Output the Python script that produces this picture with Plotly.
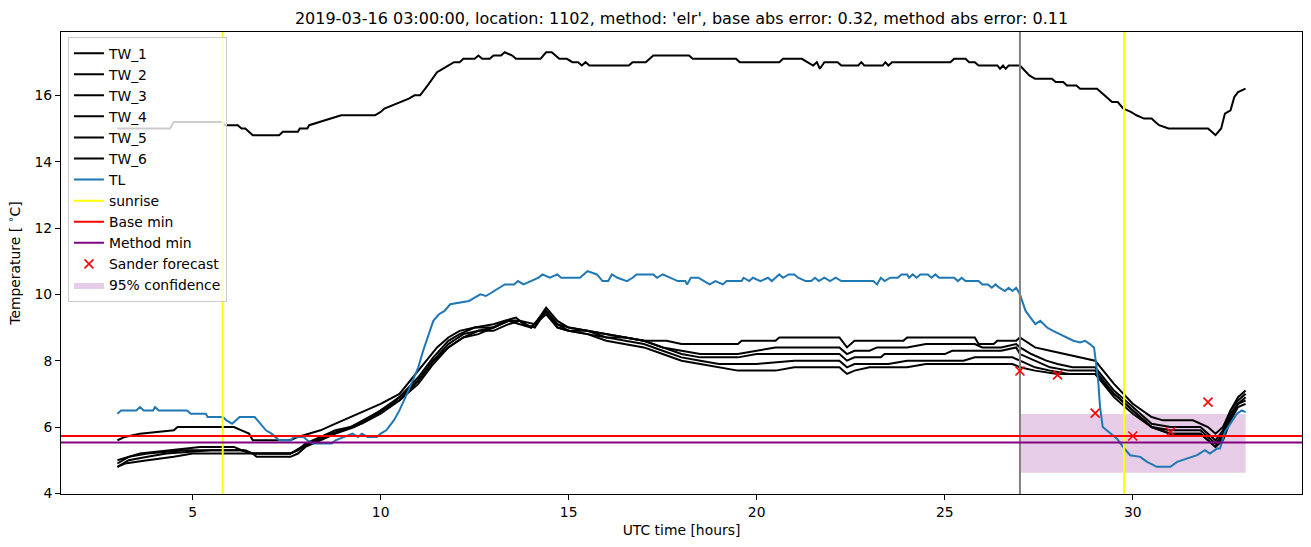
import plotly.graph_objects as go

TITLE = "2019-03-16 03:00:00, location: 1102, method: 'elr', base abs error: 0.32, method abs error: 0.11"

TW_1 = [(3.0,15.0),(4.4,15.0),(4.5,15.2),(5.8,15.2),(5.85,15.1),(6.2,15.1),(6.3,15.0),(6.4,15.0),(6.6,14.8),(7.3,14.8),(7.4,14.9),(7.8,14.9),(7.85,15.0),(8.05,15.0),(8.1,15.1),(8.4,15.2),(8.7,15.3),(8.95,15.4),(9.85,15.4),(10.0,15.5),(10.1,15.6),(10.3,15.7),(10.55,15.8),(10.75,15.9),(10.9,16.0),(11.05,16.0),(11.25,16.3),(11.5,16.7),(11.65,16.8),(11.8,16.9),(11.95,17.0),(12.1,17.0),(12.2,17.1),(12.5,17.1),(12.6,17.2),(12.7,17.1),(12.9,17.1),(13.0,17.2),(13.2,17.2),(13.3,17.3),(13.5,17.2),(13.6,17.1),(14.25,17.1),(14.4,17.3),(14.55,17.3),(14.65,17.2),(14.75,17.1),(14.95,17.1),(15.1,17.0),(15.25,17.0),(15.35,16.9),(15.45,17.0),(15.55,16.9),(16.6,16.9),(16.7,17.0),(17.05,17.0),(17.25,17.2),(18.2,17.2),(18.3,17.1),(19.45,17.1),(19.55,17.0),(20.6,17.0),(20.7,17.1),(21.2,17.1),(21.35,17.0),(21.5,16.9),(21.6,17.0),(21.68,16.8),(21.8,17.0),(22.15,17.0),(22.25,16.9),(22.7,16.9),(22.78,17.0),(22.86,16.9),(23.35,16.9),(23.42,17.0),(23.5,16.9),(23.6,17.0),(25.15,17.0),(25.25,17.1),(25.55,17.1),(25.65,17.0),(25.8,17.0),(25.9,16.9),(26.4,16.9),(26.47,16.8),(26.55,16.9),(26.62,16.8),(26.7,16.9),(27.0,16.9),(27.25,16.6),(27.4,16.5),(27.85,16.5),(27.95,16.4),(28.15,16.4),(28.25,16.3),(28.5,16.3),(28.6,16.2),(29.05,16.2),(29.45,15.8),(29.6,15.8),(29.75,15.6),(29.95,15.5),(30.1,15.4),(30.3,15.3),(30.5,15.3),(30.6,15.2),(30.7,15.1),(30.95,15.0),(32.0,15.0),(32.1,14.9),(32.2,14.8),(32.35,15.0),(32.45,15.45),(32.6,15.55),(32.7,15.95),(32.8,16.1),(32.9,16.15),(33.0,16.2)]

TW_2 = [(3.0,5.6),(3.2,5.7),(3.6,5.8),(4.5,5.9),(4.6,6.0),(6.1,6.0),(6.3,5.9),(6.5,5.8),(6.6,5.6),(7.6,5.6),(7.8,5.7),(8.1,5.8),(8.4,5.9),(8.8,6.1),(9.2,6.3),(9.6,6.5),(10.0,6.7),(10.5,7.0),(11.0,7.7),(11.5,8.4),(11.8,8.7),(12.1,8.9),(12.5,9.0),(13.0,9.1),(13.3,9.2),(13.7,9.2),(14.1,9.1),(14.4,9.6),(14.7,9.2),(15.0,9.0),(15.5,8.9),(16.0,8.8),(16.5,8.7),(17.0,8.6),(17.6,8.6),(18.0,8.5),(19.5,8.5),(19.6,8.6),(20.5,8.6),(20.6,8.7),(22.2,8.7),(22.4,8.4),(22.6,8.6),(23.9,8.6),(24.0,8.7),(25.8,8.7),(25.9,8.5),(26.3,8.5),(26.4,8.6),(26.9,8.6),(27.0,8.7),(27.4,8.4),(27.8,8.3),(28.2,8.2),(28.6,8.1),(29.0,8.0),(29.5,7.3),(30.0,6.7),(30.5,6.3),(30.8,6.2),(31.6,6.2),(31.8,6.1),(32.0,6.0),(32.2,5.8),(32.4,6.0),(32.6,6.5),(32.8,6.9),(33.0,7.1)]

TW_3 = [(3.0,5.0),(3.3,5.1),(3.6,5.2),(4.4,5.3),(5.2,5.4),(6.1,5.4),(6.3,5.3),(6.6,5.2),(7.6,5.2),(7.8,5.3),(8.0,5.5),(8.4,5.7),(8.8,5.9),(9.2,6.0),(9.6,6.2),(10.0,6.5),(10.5,6.9),(11.0,7.5),(11.4,8.1),(11.8,8.6),(12.1,8.8),(12.5,9.0),(13.0,9.0),(13.3,9.2),(13.6,9.3),(13.8,9.1),(14.1,9.0),(14.4,9.5),(14.7,9.1),(15.0,9.0),(15.5,8.9),(16.0,8.8),(16.5,8.7),(17.0,8.6),(17.5,8.4),(18.0,8.3),(18.5,8.2),(19.5,8.2),(20.0,8.3),(20.5,8.4),(22.2,8.4),(22.4,8.2),(22.6,8.3),(23.0,8.3),(23.2,8.4),(24.0,8.4),(24.5,8.5),(25.8,8.5),(26.0,8.4),(26.5,8.4),(26.9,8.5),(27.0,8.4),(27.3,8.2),(27.7,8.0),(28.0,7.9),(28.4,7.8),(29.0,7.8),(29.5,7.1),(30.0,6.6),(30.5,6.1),(31.0,6.0),(31.8,6.0),(32.0,5.8),(32.2,5.6),(32.4,5.9),(32.6,6.5),(32.8,6.8),(33.0,7.0)]

TW_4 = [(3.0,4.9),(3.3,5.1),(3.8,5.2),(4.8,5.3),(6.3,5.3),(6.6,5.2),(7.6,5.2),(7.9,5.4),(8.3,5.6),(8.7,5.8),(9.2,6.0),(9.7,6.3),(10.0,6.5),(10.5,6.8),(11.0,7.4),(11.4,8.0),(11.8,8.5),(12.2,8.8),(12.6,8.9),(13.0,9.0),(13.4,9.2),(13.7,9.2),(14.0,9.0),(14.4,9.5),(14.7,9.1),(15.0,8.9),(15.5,8.9),(16.0,8.7),(16.5,8.7),(17.0,8.6),(17.5,8.4),(18.0,8.2),(18.5,8.1),(19.5,8.1),(20.0,8.2),(22.2,8.2),(22.4,8.0),(22.6,8.1),(23.3,8.1),(23.4,8.2),(25.0,8.2),(25.2,8.3),(26.5,8.3),(26.9,8.4),(27.0,8.2),(27.4,8.0),(27.8,7.8),(28.3,7.7),(29.0,7.7),(29.5,7.0),(30.0,6.5),(30.5,6.0),(31.0,5.9),(31.8,5.9),(32.0,5.7),(32.2,5.5),(32.4,5.8),(32.6,6.4),(32.8,6.7),(33.0,6.9)]

TW_5 = [(3.0,4.8),(3.3,5.0),(3.8,5.1),(4.3,5.2),(5.5,5.3),(6.4,5.3),(6.6,5.2),(7.6,5.2),(7.8,5.3),(8.1,5.5),(8.5,5.7),(9.0,5.9),(9.5,6.1),(10.0,6.4),(10.5,6.8),(11.0,7.3),(11.4,7.9),(11.8,8.4),(12.2,8.7),(12.6,8.9),(13.0,8.9),(13.4,9.1),(13.7,9.2),(14.0,9.0),(14.4,9.4),(14.7,9.0),(15.0,8.9),(15.5,8.8),(16.0,8.7),(16.5,8.6),(17.0,8.5),(17.5,8.3),(18.0,8.1),(18.5,8.0),(19.0,7.9),(20.0,7.9),(21.0,8.0),(22.2,8.0),(22.4,7.8),(22.6,7.9),(23.5,7.9),(24.0,8.0),(25.5,8.0),(25.8,8.1),(26.8,8.1),(27.0,8.0),(27.4,7.8),(27.8,7.7),(28.3,7.6),(29.0,7.6),(29.5,7.0),(30.0,6.5),(30.5,6.0),(31.0,5.8),(31.8,5.8),(32.0,5.6),(32.2,5.4),(32.4,5.7),(32.6,6.3),(32.8,6.7),(33.0,6.8)]

TW_6 = [(3.0,4.8),(3.2,4.9),(3.8,5.0),(4.5,5.1),(5.0,5.2),(6.6,5.2),(6.7,5.1),(7.6,5.1),(7.8,5.2),(8.0,5.4),(8.4,5.6),(8.8,5.8),(9.3,6.0),(9.8,6.3),(10.2,6.6),(10.6,7.0),(11.0,7.4),(11.4,8.0),(11.8,8.4),(12.2,8.7),(12.6,8.8),(13.0,9.0),(13.4,9.2),(13.7,9.1),(14.0,9.0),(14.4,9.5),(14.7,9.0),(15.0,8.9),(15.5,8.8),(16.0,8.6),(16.5,8.5),(17.0,8.4),(17.5,8.2),(18.0,8.0),(18.5,7.9),(19.0,7.8),(19.5,7.7),(20.5,7.7),(21.0,7.8),(22.2,7.8),(22.4,7.6),(22.6,7.7),(23.0,7.8),(24.0,7.8),(24.5,7.9),(26.8,7.9),(27.0,7.8),(27.4,7.7),(28.0,7.6),(29.0,7.6),(29.5,6.9),(30.0,6.4),(30.5,6.0),(31.0,5.8),(31.8,5.8),(32.0,5.6),(32.2,5.4),(32.4,5.6),(32.6,6.2),(32.8,6.6),(33.0,6.7)]

TL = [(3.0,6.4),(3.1,6.5),(3.5,6.5),(3.6,6.6),(3.7,6.5),(3.95,6.5),(4.0,6.6),(4.1,6.5),(4.85,6.5),(4.95,6.4),(5.35,6.4),(5.4,6.3),(5.8,6.3),(5.9,6.2),(6.05,6.1),(6.15,6.2),(6.25,6.3),(6.65,6.3),(6.8,6.1),(6.95,5.9),(7.1,5.8),(7.2,5.7),(7.3,5.6),(7.6,5.6),(7.7,5.7),(7.95,5.7),(8.05,5.6),(8.2,5.5),(8.7,5.5),(8.8,5.6),(9.25,5.8),(9.4,5.7),(9.5,5.8),(9.65,5.7),(9.9,5.7),(10.0,5.8),(10.15,5.9),(10.35,6.2),(10.5,6.5),(10.7,7.0),(10.86,7.4),(11.0,7.8),(11.13,8.3),(11.27,8.8),(11.4,9.2),(11.55,9.4),(11.7,9.5),(11.85,9.7),(12.15,9.75),(12.35,9.8),(12.5,9.9),(12.65,10.0),(12.8,9.95),(13.0,10.1),(13.3,10.3),(13.55,10.3),(13.65,10.4),(13.8,10.3),(14.0,10.4),(14.2,10.5),(14.3,10.6),(14.5,10.5),(14.7,10.6),(14.8,10.5),(15.3,10.5),(15.5,10.7),(15.75,10.6),(15.9,10.4),(16.05,10.4),(16.15,10.6),(16.3,10.5),(16.55,10.4),(16.7,10.5),(16.8,10.6),(17.25,10.6),(17.35,10.5),(17.5,10.6),(17.7,10.5),(17.9,10.4),(18.1,10.4),(18.15,10.3),(18.25,10.5),(18.45,10.5),(18.6,10.4),(18.75,10.3),(18.9,10.4),(19.1,10.3),(19.2,10.4),(19.6,10.4),(19.65,10.5),(19.8,10.4),(19.9,10.5),(20.1,10.4),(20.3,10.5),(20.4,10.4),(20.5,10.5),(20.6,10.6),(20.7,10.5),(20.85,10.6),(21.0,10.6),(21.1,10.5),(21.3,10.4),(21.45,10.4),(21.55,10.5),(21.65,10.4),(21.8,10.5),(21.95,10.4),(22.1,10.5),(22.25,10.4),(23.1,10.4),(23.2,10.3),(23.3,10.5),(23.4,10.4),(23.55,10.5),(23.75,10.5),(23.85,10.6),(24.0,10.6),(24.05,10.5),(24.15,10.6),(24.25,10.5),(24.35,10.6),(24.55,10.6),(24.65,10.5),(24.75,10.6),(24.85,10.5),(25.25,10.5),(25.35,10.4),(25.45,10.5),(25.55,10.4),(25.9,10.4),(26.0,10.3),(26.15,10.3),(26.25,10.2),(26.35,10.3),(26.45,10.2),(26.6,10.1),(26.7,10.2),(26.8,10.1),(26.9,10.2),(27.0,10.0),(27.15,9.5),(27.28,9.3),(27.41,9.1),(27.54,9.2),(27.72,9.0),(27.88,8.9),(28.07,8.8),(28.25,8.7),(28.42,8.6),(28.6,8.55),(28.73,8.6),(28.86,8.5),(28.97,8.4),(29.08,7.4),(29.13,6.6),(29.2,6.0),(29.4,5.8),(29.58,5.65),(29.74,5.4),(29.93,5.15),(30.2,5.1),(30.38,4.95),(30.64,4.8),(31.0,4.8),(31.18,4.95),(31.45,5.05),(31.71,5.15),(31.92,5.3),(32.05,5.2),(32.24,5.35),(32.32,5.35),(32.45,5.85),(32.59,6.1),(32.77,6.4),(32.9,6.5),(33.0,6.45)]

SUNRISE_HOURS = [5.8, 29.77]
NOW_HOUR = 27.0
BASE_MIN = 5.73
METHOD_MIN = 5.53
FORECAST_HOURS = [27, 28, 29, 30, 31, 32]
FORECAST_VALUES = [7.69, 7.57, 6.42, 5.73, 5.85, 6.75]
CONF_HOURS = [27.0, 33.0]
CONF_LOW = 4.62
CONF_HIGH = 6.39

X_RANGE = [1.5, 34.5]
Y_RANGE = [3.98, 17.91]
X_TICKS = [5, 10, 15, 20, 25, 30]
Y_TICKS = [4, 6, 8, 10, 12, 14, 16]

FONT = "DejaVu Sans"
FS = 13.9
fig = go.Figure()

fig.add_trace(go.Scatter(
    x=[CONF_HOURS[0], CONF_HOURS[1], CONF_HOURS[1], CONF_HOURS[0], CONF_HOURS[0]],
    y=[CONF_LOW, CONF_LOW, CONF_HIGH, CONF_HIGH, CONF_LOW],
    fill="toself", fillcolor="rgba(128,0,128,0.2)", line=dict(width=0),
    mode="lines", name="95% confidence", legendrank=12, hoverinfo="skip"))

for i, series in enumerate([TW_1, TW_2, TW_3, TW_4, TW_5, TW_6]):
    xs = [p[0] for p in series]
    ys = [p[1] for p in series]
    fig.add_trace(go.Scatter(x=xs, y=ys, mode="lines", name=f"TW_{i+1}",
                             line=dict(color="black", width=2), legendrank=i + 1))

fig.add_trace(go.Scatter(x=[p[0] for p in TL], y=[p[1] for p in TL], mode="lines",
                         name="TL", line=dict(color="#1f77b4", width=2), legendrank=7))

fig.add_trace(go.Scatter(x=[NOW_HOUR, NOW_HOUR], y=Y_RANGE, mode="lines",
                         line=dict(color="gray", width=2), showlegend=False))

sx, sy = [], []
for h in SUNRISE_HOURS:
    sx += [h, h, None]
    sy += [Y_RANGE[0], Y_RANGE[1], None]
fig.add_trace(go.Scatter(x=sx, y=sy, mode="lines", name="sunrise",
                         line=dict(color="yellow", width=2), legendrank=8))

fig.add_trace(go.Scatter(x=X_RANGE, y=[BASE_MIN, BASE_MIN], mode="lines", name="Base min",
                         line=dict(color="red", width=2), legendrank=9))
fig.add_trace(go.Scatter(x=X_RANGE, y=[METHOD_MIN, METHOD_MIN], mode="lines", name="Method min",
                         line=dict(color="purple", width=2), legendrank=10))

fig.add_trace(go.Scatter(x=FORECAST_HOURS, y=FORECAST_VALUES, mode="markers", name="Sander forecast",
                         marker=dict(symbol="x-thin", size=9, color="red",
                                     line=dict(color="red", width=1.6)), legendrank=11))

axis_common = dict(showline=True, linecolor="black", linewidth=1, mirror=True,
                   ticks="outside", ticklen=5, tickwidth=1, tickcolor="black",
                   showgrid=False, zeroline=False,
                   tickfont=dict(family=FONT, size=FS, color="black"))

fig.update_layout(
    width=1311, height=547,
    margin=dict(l=61, r=9, t=32, b=53),
    paper_bgcolor="white", plot_bgcolor="white",
    font=dict(family=FONT, size=FS, color="black"),
    title=dict(text=TITLE, x=0.5, xref="paper", xanchor="center",
               y=1 - 18 / 547, yref="container", yanchor="middle",
               font=dict(family=FONT, size=16, color="black")),
    xaxis=dict(range=X_RANGE, tickvals=X_TICKS,
               title=dict(text="UTC time [hours]", standoff=6,
                          font=dict(family=FONT, size=FS)), **axis_common),
    yaxis=dict(range=Y_RANGE, tickvals=Y_TICKS,
               title=dict(text="Temperature [ <sup>∘</sup>C]", standoff=10,
                          font=dict(family=FONT, size=FS)), **axis_common),
    legend=dict(x=0.0056, y=0.99, xanchor="left", yanchor="top",
                bgcolor="rgba(255,255,255,0.8)", bordercolor="#cccccc", borderwidth=1,
                font=dict(family=FONT, size=FS, color="black"),
                tracegroupgap=0, itemwidth=30),
    showlegend=True,
)

fig.write_html("out.html")
